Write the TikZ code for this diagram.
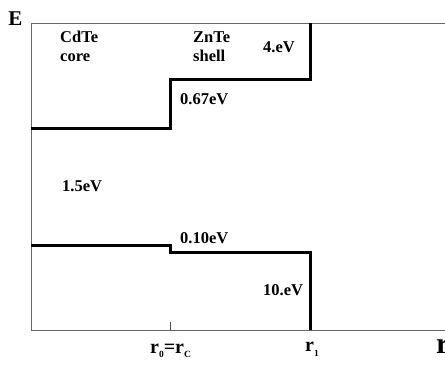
\documentclass[tikz,border=0pt]{standalone}
\usepackage{fontspec}
\setmainfont{Liberation Serif}
\usetikzlibrary{positioning}

\newcommand{\rsub}[1]{r\raisebox{-0.5ex}{\fontsize{9.5}{9.5}\selectfont #1}}

\begin{document}
\begin{tikzpicture}[
  x=1pt, y=-1pt,
  font=\bfseries\fontsize{16.5}{19}\selectfont,
  frame/.style={draw=black!60, line width=1pt},
  band/.style={line width=3pt, line join=miter},
  lbl/.style={inner sep=0pt, anchor=west}
]
\useasboundingbox (0,0) rectangle (445,365);

% frame and axes
\draw[frame] (445,23) -- (31,23) -- (31,330) -- (445,330);
\draw[black!70, line width=0.6pt] (170,322) -- (170,330);

% conduction band
\coordinate (cb0) at (31,128);
\coordinate (cb1) at (310,23);
\draw[band] (cb0) -- (170,128) -- (170,79) -- (310,79) -- (cb1);

% valence band
\coordinate (vb0) at (31,245);
\coordinate (vb1) at (310,330);
\draw[band] (vb0) -- (170,245) -- (170,252) -- (310,252) -- (vb1);

% Labels
\node[font=\bfseries\fontsize{21}{22}\selectfont, inner sep=0pt] (axE) at (15.5,19) {E};
\node[lbl, align=left] (core) at (60,46) {CdTe\\core};
\node[lbl, align=left] (shell) at (193,47) {ZnTe\\shell};
\node[lbl] (cbs) at (263,47) {4.eV};
\node[lbl] (cbo) at (180,99) {0.67eV};
\node[lbl] (gap) at (62,186) {1.5eV};
\node[lbl] (vbo) at (180,238) {0.10eV};
\node[lbl] (vbs) at (263,290) {10.eV};
\node[lbl, font=\bfseries\fontsize{20}{20}\selectfont] (rc) at (150,351) {\rsub{0}=\rsub{C}};
\node[lbl, font=\bfseries\fontsize{20}{20}\selectfont] (ro) at (305,349) {\rsub{1}};
\node[lbl, font=\bfseries\fontsize{30}{30}\selectfont] (axr) at (436,346) {r};

\end{tikzpicture}
\end{document}
